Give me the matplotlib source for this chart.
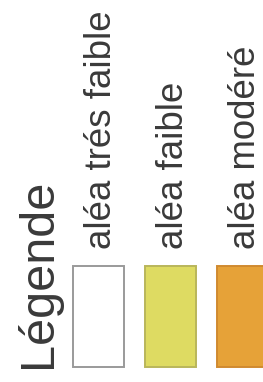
#!/usr/bin/env python3
"""legende_alea.py"""

import matplotlib

matplotlib.use("Agg")
import matplotlib.pyplot as plt

# data
title = "Légende"
labels = ["aléa trés faible", "aléa faible", "aléa modéré"]
fills = ["#ffffff", "#dedb62", "#e6a238"]
edges = ["#9a9a9a", "#b9b65a", "#d08a30"]


def plot(ax: plt.Axes):
    # pixel-like coordinates, y grows downwards
    ax.set_xlim(0, 263)
    ax.set_ylim(382, 0)
    ax.axis("off")

    x0, pitch, width = 73, 72, 51
    top, height = 266, 101
    xs = [x0 + i * pitch for i in range(len(labels))]

    ax.bar(
        xs,
        [height] * len(labels),
        bottom=top,
        width=width,
        align="edge",
        color=fills,
        edgecolor=edges,
        linewidth=1.4,
    )

    for x, lab in zip(xs, labels):
        ax.text(
            x + 38,
            249,
            lab,
            rotation=90,
            rotation_mode="anchor",
            ha="left",
            va="baseline",
            fontsize=26.4,
            color="#3a3a3a",
        )

    ax.text(
        51,
        368,
        title,
        rotation=90,
        rotation_mode="anchor",
        ha="left",
        va="baseline",
        fontsize=35,
        color="#3a3a3a",
    )


def main():
    plt.rcParams["font.family"] = ["Liberation Sans", "DejaVu Sans"]
    fig = plt.figure(figsize=(2.63, 3.82), dpi=100)
    ax = fig.add_axes([0, 0, 1, 1])
    plot(ax)
    fig.savefig("out.png", dpi=100)


if __name__ == "__main__":
    main()
